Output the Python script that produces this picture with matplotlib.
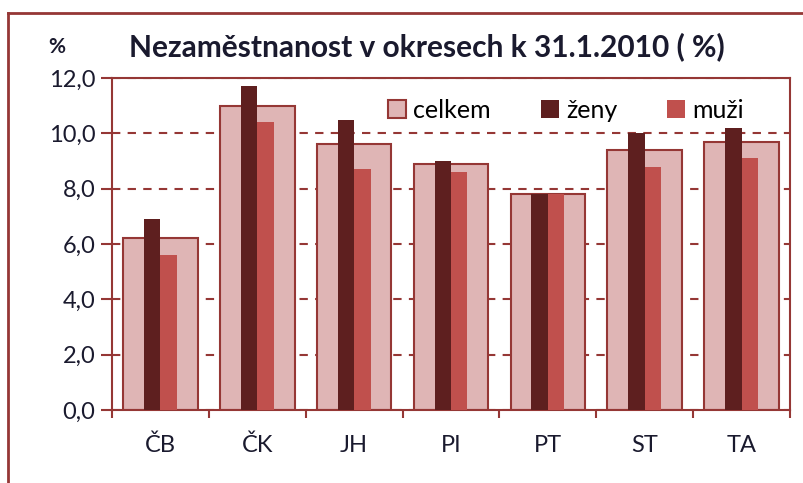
import numpy as np
import matplotlib
matplotlib.use("Agg")
import matplotlib.pyplot as plt
from matplotlib.lines import Line2D

districts = ["ČB", "ČK", "JH", "PI", "PT", "ST", "TA"]
celkem = [6.2, 11.0, 9.6, 8.9, 7.8, 9.4, 9.7]
zeny = [6.9, 11.7, 10.5, 9.0, 7.8, 10.0, 10.2]
muzi = [5.6, 10.4, 8.7, 8.6, 7.8, 8.8, 9.1]

edge = "#953735"
txt = "#1a1a2e"
plt.rcParams["font.family"] = ["Lato", "DejaVu Sans"]

fig = plt.figure(figsize=(8.04, 4.83), dpi=100)
ax = fig.add_axes([112 / 804, 1 - 410 / 483, 678 / 804, 332 / 483])

x = np.arange(len(districts))
ax.bar(x, celkem, width=0.77, color="#DFB5B5", edgecolor=edge, linewidth=1.5,
       label="celkem", zorder=2)
ax.bar(x - 0.085, zeny, width=0.17, color="#5E1F1F", label="ženy", zorder=3)
ax.bar(x + 0.085, muzi, width=0.17, color="#C0504D", label="muži", zorder=3)

ax.set_xlim(-0.5, 6.5)
ax.set_ylim(0, 12)
ax.set_yticks(np.arange(0, 12.1, 2))
ax.set_yticklabels([f"{v:.1f}".replace(".", ",") for v in np.arange(0, 12.1, 2)])
ax.yaxis.grid(True, linestyle=(0, (4, 3.5)), color=edge, linewidth=1.5, zorder=1)
ax.set_axisbelow(True)

ax.set_xticks(x)
ax.set_xticklabels(districts)
ax.set_xticks(np.arange(-0.5, 7, 1), minor=True)
ax.tick_params(axis="x", which="major", length=0, pad=18, labelsize=17, labelcolor=txt)
ax.tick_params(axis="x", which="minor", length=6, width=1.5, color=edge, direction="out")
ax.tick_params(axis="y", length=8, width=1.5, color=edge, labelsize=17,
               labelcolor=txt, pad=4)
for s in ax.spines.values():
    s.set_color(edge)
    s.set_linewidth(1.5)

leg = ax.legend(loc="upper right", ncol=3, frameon=False, fontsize=18,
                bbox_to_anchor=(0.965, 1.005), handlelength=0.7, handleheight=0.7,
                handletextpad=0.3, columnspacing=2.0)

fig.text(57 / 804, 1 - 47 / 483, "%", fontsize=15, fontweight="bold",
         color=txt, ha="center", va="center")
fig.text(427 / 804, 1 - 47 / 483, "Nezaměstnanost v okresech k 31.1.2010 ( %)",
         fontsize=21.5, fontweight="bold", color=txt, ha="center", va="center")

fig.add_artist(Line2D([8 / 804, 8 / 804], [0, 1 - 13 / 483], color=edge, linewidth=2))
fig.add_artist(Line2D([8 / 804, 1], [1 - 13 / 483, 1 - 13 / 483], color=edge, linewidth=2))

fig.savefig("out.png", dpi=100)
